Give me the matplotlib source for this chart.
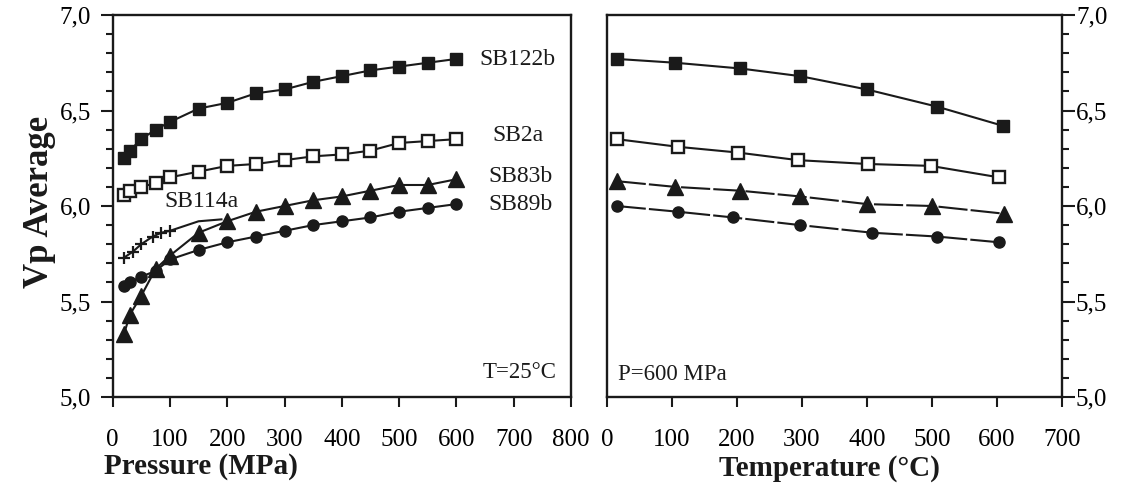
import matplotlib
matplotlib.use("Agg")
import matplotlib.pyplot as plt
from matplotlib.ticker import MultipleLocator, FuncFormatter

plt.rcParams['font.family'] = ['Liberation Serif', 'DejaVu Serif']

# ---- Left panel: Vp vs pressure at T = 25 °C ----
p_sb122b = [20, 30, 50, 75, 100, 150, 200, 250, 300, 350, 400, 450, 500, 550, 600]
v_sb122b = [6.25, 6.29, 6.35, 6.40, 6.44, 6.51, 6.54, 6.59, 6.61, 6.65, 6.68, 6.71, 6.73, 6.75, 6.77]

p_sb2a = [20, 30, 50, 75, 100, 150, 200, 250, 300, 350, 400, 450, 500, 550, 600]
v_sb2a = [6.06, 6.08, 6.10, 6.12, 6.15, 6.18, 6.21, 6.22, 6.24, 6.26, 6.27, 6.29, 6.33, 6.34, 6.35]

p_sb83b = [20, 30, 50, 75, 100, 150, 200, 250, 300, 350, 400, 450, 500, 550, 600]
v_sb83b = [5.33, 5.43, 5.53, 5.67, 5.74, 5.86, 5.92, 5.97, 6.00, 6.03, 6.05, 6.08, 6.11, 6.11, 6.14]

p_sb89b = [20, 30, 50, 75, 100, 150, 200, 250, 300, 350, 400, 450, 500, 550, 600]
v_sb89b = [5.58, 5.60, 5.63, 5.66, 5.72, 5.77, 5.81, 5.84, 5.87, 5.90, 5.92, 5.94, 5.97, 5.99, 6.01]

p_sb114a = [20, 35, 50, 70, 85, 100, 150, 190]
v_sb114a = [5.73, 5.76, 5.80, 5.84, 5.86, 5.87, 5.92, 5.93]

# ---- Right panel: Vp vs temperature at P = 600 MPa ----
t_sb122b = [15, 105, 205, 297, 400, 508, 609]
vt_sb122b = [6.77, 6.75, 6.72, 6.68, 6.61, 6.52, 6.42]
t_sb2a = [15, 109, 201, 294, 401, 498, 603]
vt_sb2a = [6.35, 6.31, 6.28, 6.24, 6.22, 6.21, 6.15]
t_sb83b = [15, 105, 205, 297, 400, 500, 610]
vt_sb83b = [6.13, 6.10, 6.08, 6.05, 6.01, 6.00, 5.96]
t_sb89b = [15, 109, 194, 297, 408, 508, 603]
vt_sb89b = [6.00, 5.97, 5.94, 5.90, 5.86, 5.84, 5.81]

ink = '#1a1a1a'
W, H = 1126, 487
fig = plt.figure(figsize=(W / 100, H / 100), dpi=100)

def px_axes(x0, x1, y0, y1):
    return fig.add_axes([x0 / W, 1 - y1 / H, (x1 - x0) / W, (y1 - y0) / H])

axL = px_axes(112.6, 571, 15, 397)
axR = px_axes(607, 1062, 15, 397)

comma = FuncFormatter(lambda v, pos: f"{v:.1f}".replace('.', ','))

for ax in (axL, axR):
    ax.set_ylim(5.0, 7.0)
    ax.yaxis.set_major_locator(MultipleLocator(0.5))
    ax.yaxis.set_minor_locator(MultipleLocator(0.1))
    ax.yaxis.set_major_formatter(comma)
    ax.xaxis.set_major_locator(MultipleLocator(100))
    for s in ax.spines.values():
        s.set_linewidth(1.7)
        s.set_color(ink)
    ax.tick_params(axis='x', direction='out', length=7, width=1.5, color=ink,
                   labelsize=18, pad=16)
    ax.tick_params(axis='y', which='major', direction='out', length=9, width=1.5,
                   color=ink, labelsize=18)
    ax.tick_params(axis='y', which='minor', direction='out', length=5, width=1.5,
                   color=ink)

axL.tick_params(axis='y', which='major', pad=6.5)
axR.tick_params(axis='y', which='major', pad=1)

axL.set_xlim(0, 800)
axR.set_xlim(0, 700)
axR.yaxis.tick_right()
axR.yaxis.set_label_position('right')

lw = 1.5
# left panel series
axL.plot(p_sb122b, v_sb122b, color=ink, lw=lw, marker='s', ms=9, mfc=ink, mec=ink)
axL.plot(p_sb2a, v_sb2a, color=ink, lw=lw, marker='s', ms=9, mfc='white', mec=ink, mew=1.7)
axL.plot(p_sb114a, v_sb114a, color=ink, lw=lw, marker='+', ms=8, mew=1.6, markevery=list(range(6)))
axL.plot(p_sb89b, v_sb89b, color=ink, lw=lw, marker='o', ms=8, mfc=ink, mec=ink)
axL.plot(p_sb83b, v_sb83b, color=ink, lw=lw, marker='^', ms=11, mfc=ink, mec=ink)

# right panel series
axR.plot(t_sb122b, vt_sb122b, color=ink, lw=lw, marker='s', ms=9, mfc=ink, mec=ink)
axR.plot(t_sb2a, vt_sb2a, color=ink, lw=lw, marker='s', ms=9, mfc='white', mec=ink, mew=1.7)
axR.plot(t_sb83b, vt_sb83b, color=ink, lw=lw, marker='^', ms=11, mfc=ink, mec=ink,
         dashes=(14, 1.5))
axR.plot(t_sb89b, vt_sb89b, color=ink, lw=lw, marker='o', ms=8, mfc=ink, mec=ink,
         dashes=(14, 1.5))

# annotations
lab = dict(fontsize=17, color=ink, va='center', ha='left')
axL.text(640, 6.765, 'SB122b', **lab)
axL.text(662, 6.37, 'SB2a', **lab)
axL.text(655, 6.155, 'SB83b', **lab)
axL.text(655, 6.01, 'SB89b', **lab)
axL.text(90, 6.025, 'SB114a', **lab)
axL.text(0.969, 0.065, 'T=25°C', transform=axL.transAxes, fontsize=16.5, color=ink,
         ha='right', va='center')
axR.text(0.024, 0.058, 'P=600 MPa', transform=axR.transAxes, fontsize=16.5, color=ink,
         ha='left', va='center')

# axis titles
fig.text(201 / W, 1 - 466 / H, 'Pressure (MPa)', fontsize=21, fontweight='bold',
         color=ink, ha='center', va='center')
fig.text(829 / W, 1 - 468 / H, 'Temperature (°C)', fontsize=21, fontweight='bold',
         color=ink, ha='center', va='center')
fig.text(40 / W, 1 - 202 / H, 'Vp Average', fontsize=25, fontweight='bold',
         color=ink, ha='center', va='center', rotation=90)

fig.savefig('out.png', dpi=100)
